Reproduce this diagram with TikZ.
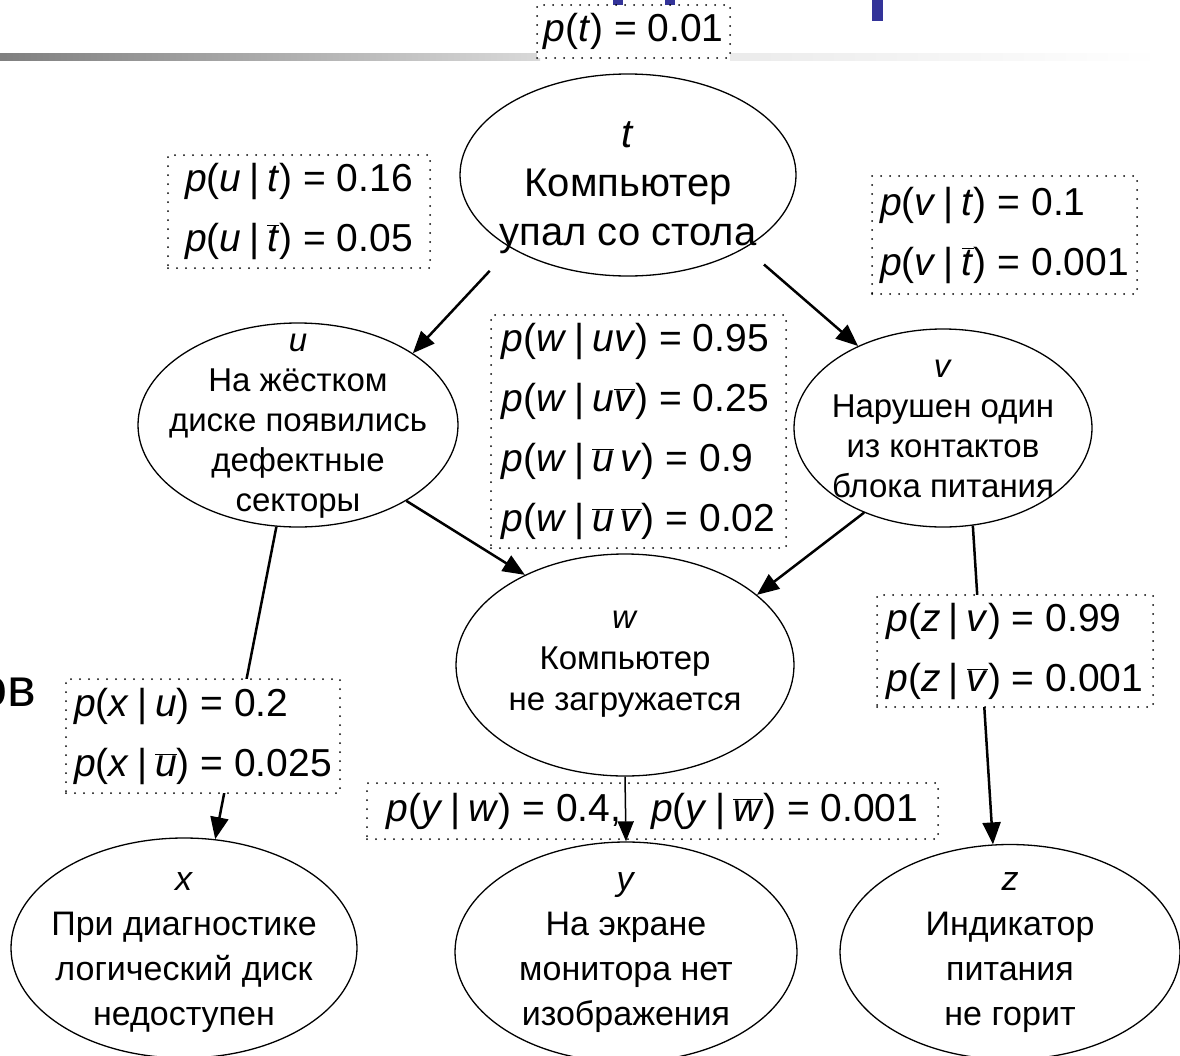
\documentclass[tikz,border=0pt]{standalone}
\usepackage{fontspec}
\setmainfont{Liberation Sans}
\usetikzlibrary{arrows.meta,shapes.geometric}
\definecolor{tblue}{RGB}{51,51,153}
\newcommand{\iv}[1]{\textit{#1}}
\newcommand{\ob}[1]{$\overline{\mbox{\textit{#1}}}$}
\newcommand{\br}{\hspace{0.2em}|\hspace{0.2em}}
\tikzset{
  ell/.style={draw, ellipse, line width=1.3pt, inner sep=0pt},
  ltxt/.style={align=center, inner sep=0pt, font=\fontsize{33}{40}\selectfont},
  pbox/.style={draw, line width=2pt, dash pattern=on 0pt off 9pt, line cap=round,
    fill=white, inner sep=0pt, align=left, font=\fontsize{39}{60}\selectfont},
  arr/.style={line width=2.5pt, -{Triangle[length=22pt,width=18pt]}},
  thinarr/.style={line width=1.5pt, -{Triangle[length=20pt,width=16pt]}},
}
\begin{document}
\begin{tikzpicture}[x=1pt,y=-1pt]
\useasboundingbox (0,0) rectangle (1180,1055);
% header decoration
\shade[left color=black!50, right color=black!15] (0,53) rectangle (540,60);
\shade[left color=black!8, right color=white] (730,53) rectangle (1160,60);
\fill[tblue] (613,0) rectangle (623,20);
\fill[tblue] (665,0) rectangle (675,20);
\fill[tblue] (872,0) rectangle (883,21);
\node[anchor=base east, inner sep=0pt, font=\fontsize{54}{60}\selectfont] (ov) at (36,706) {ов};
% ellipses
\node[ell, minimum width=336, minimum height=202] (t) at (628,175) {};
\node[ell, minimum width=320, minimum height=204] (u) at (298,425) {};
\node[ell, minimum width=298, minimum height=198] (v) at (943,428) {};
\node[ell, minimum width=338, minimum height=222] (w) at (625,665) {};
\node[ell, minimum width=346, minimum height=220] (x) at (184,948) {};
\node[ell, minimum width=342, minimum height=220] (y) at (626,952) {};
\node[ell, minimum width=340, minimum height=215] (z) at (1010,952) {};
% labels
\node[ltxt, font=\fontsize{40}{49}\selectfont] (tl) at (628,188) {\iv{t}\\Компьютер\\упал со стола};
\node[ltxt] (ul) at (298,426) {\iv{u}\\На жёстком\\диске появились\\дефектные\\секторы};
\node[ltxt] (vl) at (943,429) {\iv{v}\\Нарушен один\\из контактов\\блока питания};
\node[ltxt, font=\fontsize{33}{41}\selectfont] (wl) at (625,664) {\iv{w}\\Компьютер\\не загружается};
\node[ltxt, font=\fontsize{34}{45}\selectfont] (xl) at (184,953) {\iv{x}\\При диагностике\\логический диск\\недоступен};
\node[ltxt, font=\fontsize{34}{45}\selectfont] (yl) at (626,953) {\iv{y}\\На экране\\монитора нет\\изображения};
\node[ltxt, font=\fontsize{34}{45}\selectfont] (zl) at (1010,953) {\iv{z}\\Индикатор\\питания\\не горит};
% arrows
\draw[arr, shorten <=31pt] (t.212) -- (u.32);
\draw[arr, shorten <=25pt] (t.-32.5) -- (v.136.6);
\draw[arr] (u.-35) -- (w.138);
\draw[arr] (v.-133) -- (w.28);
\draw[arr] (u.-102) -- (x.74);
\draw[arr] (v.-73) -- (z.99);
% probability boxes
\node[pbox, minimum width=193, minimum height=53] (pt) at (633.5,31.5) {\iv{p}(\iv{t}) = 0.01};
\node[pbox, minimum width=262, minimum height=113] (put) at (299,211.5)
  {\iv{p}(\iv{u}\br\iv{t}) = 0.16\\\iv{p}(\iv{u}\br\ob{t}) = 0.05};
\node[pbox, minimum width=265, minimum height=118] (pvt) at (1004.5,235)
  {\iv{p}(\iv{v}\br\iv{t}) = 0.1\\\iv{p}(\iv{v}\br\ob{t}) = 0.001};
\node[pbox, minimum width=295, minimum height=233] (pw) at (638.5,431.5)
  {\iv{p}(\iv{w}\br\iv{uv}) = 0.95\\
   \iv{p}(\iv{w}\br\iv{u}\ob{v}) = 0.25\\
   \iv{p}(\iv{w}\br\ob{u}\,\iv{v}) = 0.9\\
   \iv{p}(\iv{w}\br\ob{u}\,\ob{v}) = 0.02};
\node[pbox, minimum width=276, minimum height=112] (pz) at (1015,651)
  {\iv{p}(\iv{z}\br\iv{v}) = 0.99\\\iv{p}(\iv{z}\br\ob{v}) = 0.001};
\node[pbox, minimum width=274, minimum height=114] (px) at (203,736)
  {\iv{p}(\iv{x}\br\iv{u}) = 0.2\\\iv{p}(\iv{x}\br\ob{u}) = 0.025};
\node[pbox, minimum width=571, minimum height=56] (py) at (652.5,811)
  {\iv{p}(\iv{y}\br\iv{w}) = 0.4,\hspace{30pt}\iv{p}(\iv{y}\br\ob{w}) = 0.001};
\draw[thinarr] (w.-90) -- (y.90);
\end{tikzpicture}
\end{document}
